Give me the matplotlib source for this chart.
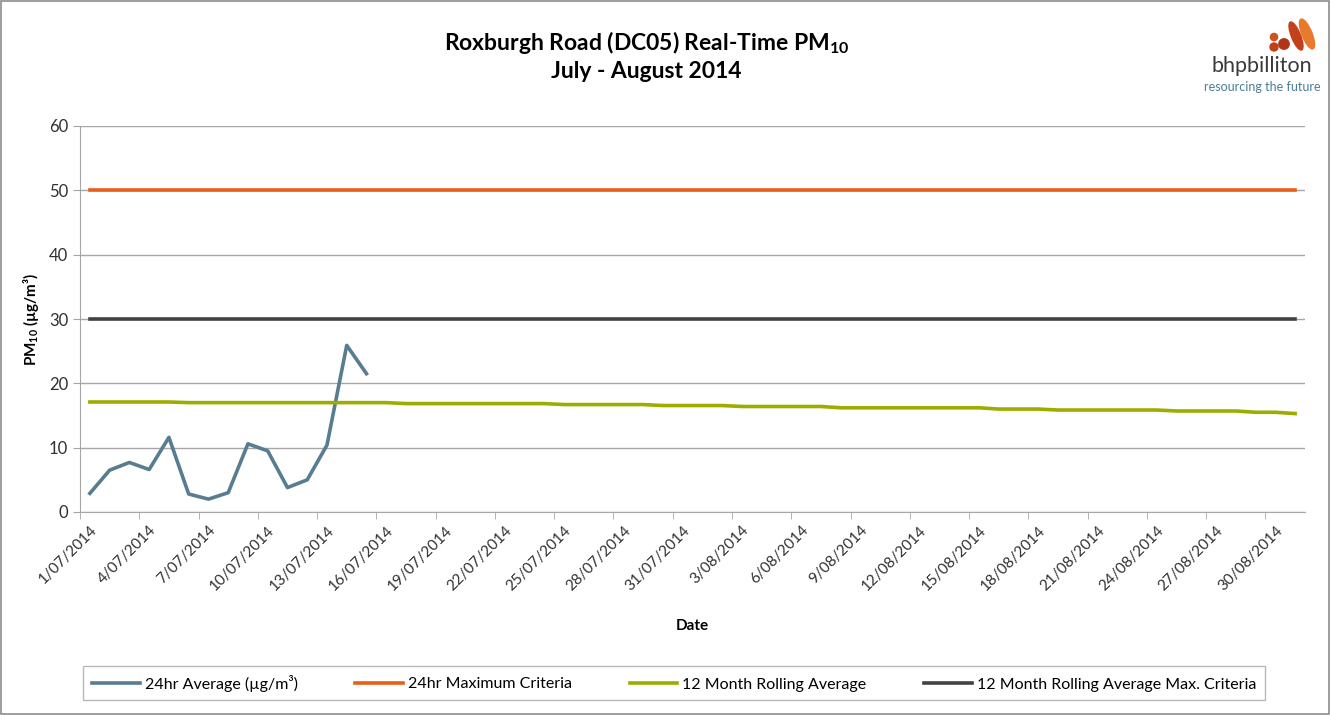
import numpy as np
import pandas as pd
import matplotlib
matplotlib.use("Agg")
import matplotlib.pyplot as plt
from matplotlib.patches import Ellipse, Circle, Rectangle

plt.rcParams['font.family'] = ['Lato', 'DejaVu Sans']
plt.rcParams['mathtext.fontset'] = 'custom'
plt.rcParams['mathtext.rm'] = 'Lato'
plt.rcParams['mathtext.bf'] = 'Lato:bold'
plt.rcParams['mathtext.default'] = 'regular'

# ---- data ----
dates = pd.date_range("2014-07-01", "2014-08-31", freq="D")
date_labels = [f"{d.day}/{d.month:02d}/{d.year}" for d in dates]

avg_24hr = [2.9, 6.5, 7.7, 6.6, 11.6, 2.8, 2.0, 3.0, 10.6, 9.5,
            3.8, 5.0, 10.4, 25.9, 21.5]

rolling_12m = ([17.1] * 5 + [17.0] * 11 + [16.85] * 8 + [16.7] * 5 +
               [16.55] * 4 + [16.4] * 5 + [16.2] * 8 + [16.0] * 3 +
               [15.85] * 6 + [15.7] * 4 + [15.5] * 2 + [15.3])

max_24hr = [50] * len(dates)
max_12m = [30] * len(dates)

series_names = ["24hr Average (µg/m³)", "24hr Maximum Criteria",
                "12 Month Rolling Average", "12 Month Rolling Average Max. Criteria"]
colors = ["#587D90", "#E85E17", "#9DAD00", "#404244"]

# ---- figure ----
fig = plt.figure(figsize=(13.3, 7.15), dpi=100)
fig.patches.append(Rectangle((0.001, 0.001), 0.998, 0.998, transform=fig.transFigure,
                             fill=False, edgecolor="#8c8c8c", linewidth=1.2))
ax = fig.add_axes([80 / 1330, 1 - 512 / 715, 1225 / 1330, 386 / 715])

x = np.arange(len(dates))
ax.plot(x[:len(avg_24hr)], avg_24hr, color=colors[0], lw=2.6, label=series_names[0])
ax.plot(x, max_24hr, color=colors[1], lw=2.6, label=series_names[1])
ax.plot(x, rolling_12m, color=colors[2], lw=2.6, label=series_names[2])
ax.plot(x, max_12m, color=colors[3], lw=2.6, label=series_names[3])

ax.set_xlim(-0.5, len(dates) - 0.5)
ax.set_ylim(0, 60)
ax.set_yticks(range(0, 61, 10))
ax.yaxis.grid(True, color="#a6a6a6", lw=1)
ax.set_axisbelow(True)
ax.tick_params(axis="y", labelsize=12, length=5, color="#a6a6a6", labelcolor="#303030")

ax.set_xticks(x[::3])
ax.set_xticklabels(date_labels[::3], rotation=45, ha="right", rotation_mode="anchor",
                   fontsize=11, color="#303030")
ax.set_xticks(np.arange(-0.5, len(dates) - 0.5, 3), minor=True)
ax.tick_params(axis="x", which="major", length=0, pad=8)
ax.tick_params(axis="x", which="minor", length=5, color="#a6a6a6")

for side in ["top", "right"]:
    ax.spines[side].set_visible(False)
for side in ["left", "bottom"]:
    ax.spines[side].set_color("#a6a6a6")

ax.set_xlabel("Date", fontsize=11, fontweight="bold", labelpad=19)
ax.set_ylabel(r"PM$_{\mathbf{10}}$ (µg/m³)", fontsize=11, fontweight="bold", labelpad=6)

fig.text(0.486, 1 - 42 / 715, r"Roxburgh Road (DC05) Real-Time PM$_{\mathbf{10}}$",
         ha="center", va="center", fontsize=16.5, fontweight="bold")
fig.text(0.486, 1 - 72 / 715, "July - August 2014",
         ha="center", va="center", fontsize=16.5, fontweight="bold")

leg = fig.legend(loc="center", bbox_to_anchor=(674 / 1330, 1 - 683 / 715), ncol=4,
                 frameon=True, fancybox=False, fontsize=11.5, handlelength=3.0,
                 handletextpad=0.3, columnspacing=3.6, borderpad=0.55)
leg.get_frame().set_edgecolor("#a6a6a6")
leg.get_frame().set_linewidth(1)

# ---- logo ----
lax = fig.add_axes([1200 / 1330, 1 - 100 / 715, 120 / 1330, 90 / 715])
lax.set_xlim(0, 120)
lax.set_ylim(90, 0)
lax.axis("off")
lax.add_patch(Circle((74, 37), 4.0, color="#C0401A"))
lax.add_patch(Circle((74, 27), 3.6, color="#D0521E"))
lax.add_patch(Circle((84, 34), 5.2, color="#B03516"))
lax.add_patch(Ellipse((96, 26), 9, 30, angle=-22, color="#C4401A"))
lax.add_patch(Ellipse((107, 24), 10, 32, angle=-22, color="#E87A2C"))
lax.text(62, 56, "bhpbilliton", ha="center", va="center", fontsize=15.5, color="#3a3a3a")
lax.text(62, 77, "resourcing the future", ha="center", va="center", fontsize=9,
         color="#4B7C96")

fig.savefig("out.png", dpi=100)
